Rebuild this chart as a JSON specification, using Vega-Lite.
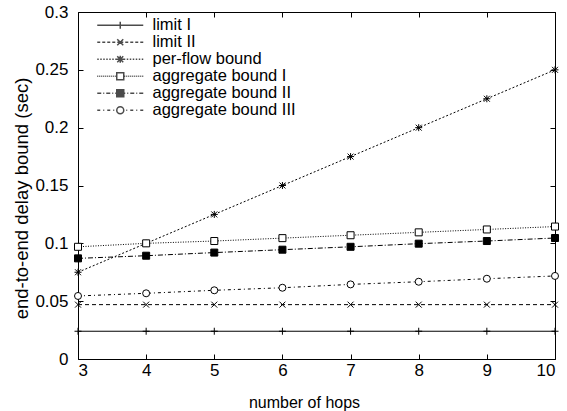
{
  "$schema": "https://vega.github.io/schema/vega-lite/v6.json",
  "width": 477,
  "height": 347,
  "autosize": {"type": "none"},
  "padding": {"left": 78, "top": 12, "right": 12, "bottom": 52},
  "background": "white",
  "config": {
    "view": {"stroke": "black", "strokeWidth": 1},
    "font": "Liberation Sans",
    "axis": {
      "grid": false,
      "domain": false,
      "tickColor": "black",
      "tickSize": -5,
      "tickWidth": 1,
      "labelColor": "black",
      "titleColor": "black",
      "labelFont": "Liberation Sans",
      "labelFontSize": 17,
      "titleFont": "Liberation Sans",
      "titleFontSize": 16,
      "titleFontWeight": "normal"
    }
  },
  "data": {
    "values": [
      {"series": "limit I", "hops": 3, "delay": 0.024},
      {"series": "limit I", "hops": 4, "delay": 0.024},
      {"series": "limit I", "hops": 5, "delay": 0.024},
      {"series": "limit I", "hops": 6, "delay": 0.024},
      {"series": "limit I", "hops": 7, "delay": 0.024},
      {"series": "limit I", "hops": 8, "delay": 0.024},
      {"series": "limit I", "hops": 9, "delay": 0.024},
      {"series": "limit I", "hops": 10, "delay": 0.024},
      {"series": "limit II", "hops": 3, "delay": 0.047},
      {"series": "limit II", "hops": 4, "delay": 0.047},
      {"series": "limit II", "hops": 5, "delay": 0.047},
      {"series": "limit II", "hops": 6, "delay": 0.047},
      {"series": "limit II", "hops": 7, "delay": 0.047},
      {"series": "limit II", "hops": 8, "delay": 0.047},
      {"series": "limit II", "hops": 9, "delay": 0.047},
      {"series": "limit II", "hops": 10, "delay": 0.047},
      {"series": "per-flow bound", "hops": 3, "delay": 0.075},
      {"series": "per-flow bound", "hops": 4, "delay": 0.1},
      {"series": "per-flow bound", "hops": 5, "delay": 0.125},
      {"series": "per-flow bound", "hops": 6, "delay": 0.15},
      {"series": "per-flow bound", "hops": 7, "delay": 0.175},
      {"series": "per-flow bound", "hops": 8, "delay": 0.2},
      {"series": "per-flow bound", "hops": 9, "delay": 0.225},
      {"series": "per-flow bound", "hops": 10, "delay": 0.25},
      {"series": "aggregate bound I", "hops": 3, "delay": 0.097},
      {"series": "aggregate bound I", "hops": 4, "delay": 0.1},
      {"series": "aggregate bound I", "hops": 5, "delay": 0.102},
      {"series": "aggregate bound I", "hops": 6, "delay": 0.1045},
      {"series": "aggregate bound I", "hops": 7, "delay": 0.107},
      {"series": "aggregate bound I", "hops": 8, "delay": 0.1095},
      {"series": "aggregate bound I", "hops": 9, "delay": 0.112},
      {"series": "aggregate bound I", "hops": 10, "delay": 0.1145},
      {"series": "aggregate bound II", "hops": 3, "delay": 0.087},
      {"series": "aggregate bound II", "hops": 4, "delay": 0.0893},
      {"series": "aggregate bound II", "hops": 5, "delay": 0.092},
      {"series": "aggregate bound II", "hops": 6, "delay": 0.0945},
      {"series": "aggregate bound II", "hops": 7, "delay": 0.097},
      {"series": "aggregate bound II", "hops": 8, "delay": 0.0997},
      {"series": "aggregate bound II", "hops": 9, "delay": 0.102},
      {"series": "aggregate bound II", "hops": 10, "delay": 0.1046},
      {"series": "aggregate bound III", "hops": 3, "delay": 0.0545},
      {"series": "aggregate bound III", "hops": 4, "delay": 0.0568},
      {"series": "aggregate bound III", "hops": 5, "delay": 0.0594},
      {"series": "aggregate bound III", "hops": 6, "delay": 0.0616},
      {"series": "aggregate bound III", "hops": 7, "delay": 0.0645},
      {"series": "aggregate bound III", "hops": 8, "delay": 0.0668},
      {"series": "aggregate bound III", "hops": 9, "delay": 0.0694},
      {"series": "aggregate bound III", "hops": 10, "delay": 0.0718}
    ]
  },
  "layer": [
    {
      "mark": {"type": "line", "color": "black", "strokeWidth": 1},
      "encoding": {
        "x": {
          "field": "hops", "type": "quantitative",
          "scale": {"domain": [3, 10], "nice": false, "zero": false},
          "axis": {"orient": "bottom", "values": [3, 4, 5, 6, 7, 8, 9, 10], "format": "d", "title": "number of hops", "labelPadding": 8, "titleX": 226, "titleY": 43, "titleBaseline": "middle", "titleAlign": "center", "titleAnchor": null}
        },
        "y": {
          "field": "delay", "type": "quantitative",
          "scale": {"domain": [0, 0.3], "nice": false},
          "axis": {"orient": "left", "values": [0, 0.05, 0.1, 0.15, 0.2, 0.25, 0.3], "format": "~g", "title": "end-to-end delay bound (sec)", "titleFontSize": 18.5, "labelPadding": 15, "titleX": -57, "titleY": 186, "titleAngle": 270, "titleBaseline": "middle", "titleAlign": "center"}
        },
        "strokeDash": {
          "field": "series", "type": "nominal",
          "scale": {
            "domain": ["limit I", "limit II", "per-flow bound", "aggregate bound I", "aggregate bound II", "aggregate bound III"],
            "range": [[1, 0], [4, 3], [2, 2], [1, 1.5], [5, 2, 1, 2], [3, 3, 1, 3]]
          },
          "legend": null
        }
      }
    },
    {
      "mark": {"type": "point", "filled": true, "stroke": "black", "strokeWidth": 1, "size": 49, "opacity": 1},
      "encoding": {
        "x": {"field": "hops", "type": "quantitative", "axis": null},
        "y": {"field": "delay", "type": "quantitative", "axis": null},
        "shape": {
          "field": "series", "type": "nominal",
          "scale": {
            "domain": ["limit I", "limit II", "per-flow bound", "aggregate bound I", "aggregate bound II", "aggregate bound III"],
            "range": ["M-1,0H1M0,-1V1", "M-0.85,-0.85L0.85,0.85M-0.85,0.85L0.85,-0.85", "M-1,0H1M0,-1V1M-0.85,-0.85L0.85,0.85M-0.85,0.85L0.85,-0.85", "square", "square", "circle"]
          },
          "legend": null
        },
        "fill": {
          "field": "series", "type": "nominal",
          "scale": {
            "domain": ["limit I", "limit II", "per-flow bound", "aggregate bound I", "aggregate bound II", "aggregate bound III"],
            "range": ["white", "white", "white", "white", "black", "white"]
          },
          "legend": null
        }
      }
    },
    {
      "transform": [{"filter": "false"}],
      "mark": {"type": "point", "stroke": "black", "fill": "white", "strokeWidth": 1},
      "encoding": {
        "x": {
          "field": "hops", "type": "quantitative",
          "axis": {"orient": "top", "values": [3, 4, 5, 6, 7, 8, 9, 10], "labels": false, "title": null}
        },
        "y": {
          "field": "delay", "type": "quantitative",
          "axis": {"orient": "right", "values": [0, 0.05, 0.1, 0.15, 0.2, 0.25, 0.3], "labels": false, "title": null}
        },
        "shape": {
          "field": "series", "type": "nominal",
          "scale": {
            "domain": ["limit I", "limit II", "per-flow bound", "aggregate bound I", "aggregate bound II", "aggregate bound III"],
            "range": [
              "M-4.6,0H4.6M0,-0.7V0.7",
              "M-4.6,0H-4M-3.6,0H-3M-2.6,0H-2M-1.6,0H-1M-0.6,0H0.6M1,0H1.6M2,0H2.6M3,0H3.6M4,0H4.6M-0.6,-0.6L0.6,0.6M-0.6,0.6L0.6,-0.6",
              "M-4.6,0H-4.3M-4,0H-3.7M-3.4,0H-3.1M-2.8,0H-2.5M-2.2,0H-1.9M-1.6,0H-1.3M-1,0H-0.7M0.7,0H1M1.3,0H1.6M1.9,0H2.2M2.5,0H2.8M3.1,0H3.4M3.7,0H4M4.3,0H4.6M-0.7,0H0.7M0,-0.7V0.7M-0.6,-0.6L0.6,0.6M-0.6,0.6L0.6,-0.6",
              "M-4.6,0H-4.4M-4.2,0H-4M-3.8,0H-3.6M-3.4,0H-3.2M-3,0H-2.8M-2.6,0H-2.4M-2.2,0H-2M-1.8,0H-1.6M-1.4,0H-1.2M-1,0H-0.8M0.8,0H1M1.2,0H1.4M1.6,0H1.8M2,0H2.2M2.4,0H2.6M2.8,0H3M3.2,0H3.4M3.6,0H3.8M4,0H4.2M4.4,0H4.6M-0.7,-0.7H0.7V0.7H-0.7Z",
              "M-4.6,0H-3.8M-3.4,0H-3.2M-2.8,0H-2M-1.6,0H-1.4M-1,0H-0.7M0.7,0H1M1.4,0H1.6M2,0H2.8M3.2,0H3.4M3.8,0H4.6M-0.7,-0.7H0.7V0.7H-0.7ZM-0.7,-0.5H0.7M-0.7,-0.3H0.7M-0.7,-0.1H0.7M-0.7,0.1H0.7M-0.7,0.3H0.7M-0.7,0.5H0.7",
              "M-4.6,0H-4M-3.4,0H-3.2M-2.6,0H-2M-1.4,0H-1.2M1.2,0H1.4M2,0H2.6M3.2,0H3.4M4,0H4.6M-0.7,0A0.7,0.7 0 1,1 0.7,0A0.7,0.7 0 1,1 -0.7,0Z"
            ]
          },
          "legend": {
            "orient": "none", "legendX": 19, "legendY": 5, "title": null, "padding": 0,
            "symbolSize": 100, "symbolOffset": 15, "labelOffset": 24, "rowPadding": 0,
            "labelFontSize": 16.5, "labelFont": "Liberation Sans", "labelColor": "black"
          }
        }
      }
    }
  ],
  "resolve": {"scale": {"shape": "independent"}, "axis": {"x": "independent", "y": "independent"}}
}
